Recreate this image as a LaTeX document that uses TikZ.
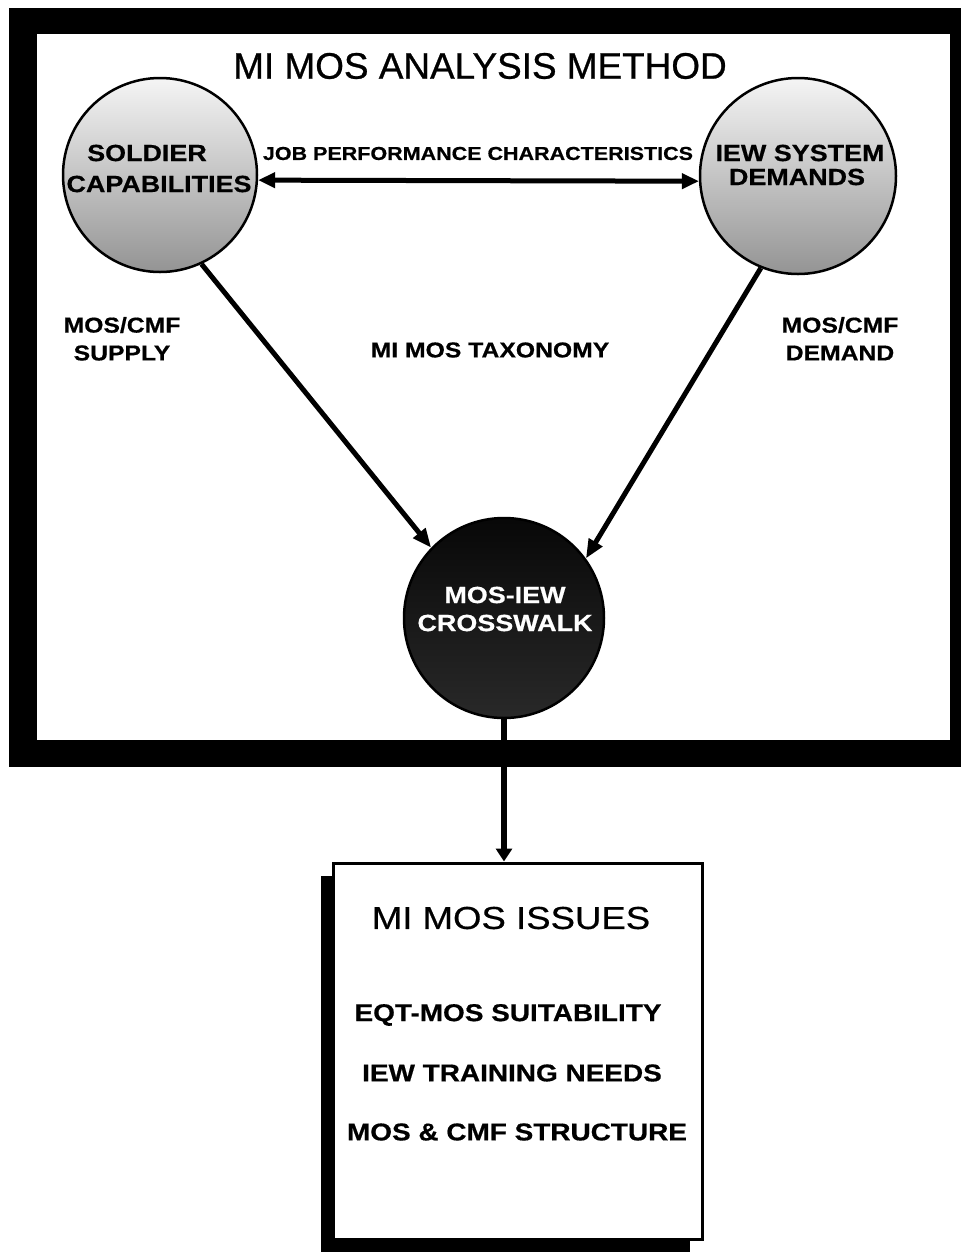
\documentclass[tikz,border=0pt]{standalone}
\usepackage{fontspec}
\setmainfont{Liberation Sans}
\newfontfamily\titlefont[FakeBold=0.7]{Liberation Sans}
\newfontfamily\widefont[FakeStretch=1.15,FakeBold=0.5]{Liberation Sans}
\newfontfamily\heavyfont[FakeStretch=1.15,FakeBold=0.6]{Liberation Sans}
\usetikzlibrary{arrows.meta,shadows}

\begin{document}
\begin{tikzpicture}[x=1pt,y=-1pt,
  titletext/.style={inner sep=0pt,font=\titlefont\fontsize{36.9}{40}\selectfont},
  headtext/.style={inner sep=0pt,font=\widefont\fontsize{31.8}{34}\selectfont},
  circletext/.style={inner sep=0pt,font=\heavyfont\bfseries\fontsize{23.4}{26}\selectfont},
  smalltext/.style={inner sep=0pt,font=\heavyfont\bfseries\fontsize{18.7}{21}\selectfont},
  sidetext/.style={inner sep=0pt,font=\heavyfont\bfseries\fontsize{21.5}{24}\selectfont},
  itemtext/.style={inner sep=0pt,font=\heavyfont\bfseries\fontsize{24.3}{27}\selectfont},
  lightbubble/.style={circle,draw,line width=2.5pt,inner sep=0pt,
    top color=black!4,middle color=black!16,bottom color=black!42},
  darkbubble/.style={circle,draw,line width=2.5pt,inner sep=0pt,
    top color=black!97,bottom color=black!84},
  link/.style={line width=5pt,-{Triangle[length=19pt,width=15pt]}},
  twoway/.style={line width=5pt,{Triangle[length=17pt,width=15pt]}-{Triangle[length=17pt,width=15pt]}},
  drop/.style={line width=6.5pt,-{Triangle[length=13pt,width=16pt]}},
  issuebox/.style={draw,line width=3pt,fill=white,inner sep=0pt,
    minimum width=369pt,minimum height=376pt,
    drop shadow={shadow xshift=-13pt,shadow yshift=-13pt,fill=black,opacity=1}}
]
\useasboundingbox (0,0) rectangle (961,1254);

% heavy black frame around the analysis method
\fill[black] (9,8) rectangle (961,767);
\fill[white] (37,34) rectangle (950,740);

\node[titletext] (title) at (480,66) {MI MOS ANALYSIS METHOD};

% the three circles
\node[lightbubble,minimum size=194pt] (L) at (160,175) {};
\node[lightbubble,minimum size=196pt] (R) at (798,176) {};
\node[darkbubble,minimum size=200pt] (C) at (504,618) {};

\node[circletext] (l1) at (147,153) {SOLDIER};
\node[circletext] (l2) at (159,184) {CAPABILITIES};
\node[circletext] (r1) at (800,153) {IEW SYSTEM};
\node[circletext] (r2) at (797,177) {DEMANDS};
\node[circletext,text=white] (c1) at (505,595) {MOS-IEW};
\node[circletext,text=white] (c2) at (505,623) {CROSSWALK};

% connectors inside the frame
\draw[twoway] (L.-3) -- (R.183);
\node[smalltext] (job) at (478,153.5) {JOB PERFORMANCE CHARACTERISTICS};
\draw[link] (L.-65) -- (C.136.6);
\draw[link] (R.248.6) -- (C.36);

\node[sidetext] (s1) at (122,325) {MOS/CMF};
\node[sidetext] (s2) at (122,353) {SUPPLY};
\node[sidetext] (tax) at (490,350) {MI MOS TAXONOMY};
\node[sidetext] (d1) at (840,325) {MOS/CMF};
\node[sidetext] (d2) at (840,353) {DEMAND};

% issues box below the frame
\node[issuebox] (box) at (518,1051) {};
\draw[drop] (C.south) -- (C.south |- box.north);

\node[headtext] (iss) at (511,918) {MI MOS ISSUES};
\node[itemtext] (i1) at (508,1015) {EQT-MOS SUITABILITY};
\node[itemtext] (i2) at (512,1073) {IEW TRAINING NEEDS};
\node[itemtext] (i3) at (517,1132) {MOS \& CMF STRUCTURE};
\end{tikzpicture}
\end{document}
